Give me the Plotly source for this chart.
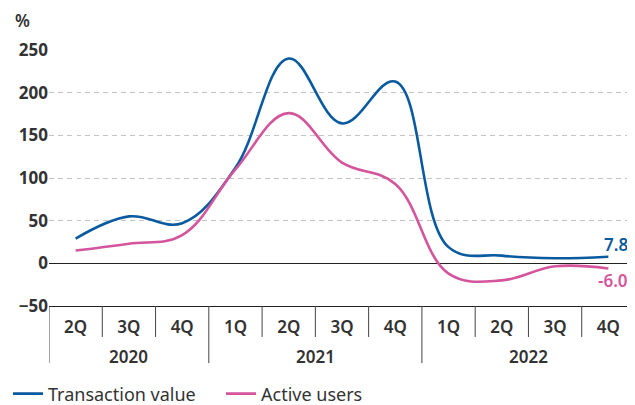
import plotly.graph_objects as go

years = ["2020"] * 3 + ["2021"] * 4 + ["2022"] * 4
quarters = ["2Q", "3Q", "4Q", "1Q", "2Q", "3Q", "4Q", "1Q", "2Q", "3Q", "4Q"]

transaction_value = [29, 55, 47, 112, 240, 164, 213, 19, 9, 6, 7.8]
active_users = [15, 23, 33, 110, 176, 118, 93, -12, -20, -3.5, -6.0]

BLUE = "#0a5aa0"
PINK = "#d4559c"
TEXT = "#333333"
FONT = "Noto Sans"
idx = list(range(len(quarters)))

fig = go.Figure()
fig.add_trace(go.Scatter(
    x=idx, y=transaction_value, name="Transaction value",
    mode="lines", line=dict(color=BLUE, width=2.6, shape="spline", smoothing=1.1),
))
fig.add_trace(go.Scatter(
    x=idx, y=active_users, name="Active users",
    mode="lines", line=dict(color=PINK, width=2.6, shape="spline", smoothing=1.1),
))

# end labels
fig.add_annotation(x=1, xref="paper", xanchor="right", xshift=-5, y=transaction_value[-1], yshift=12,
                   text=f"{transaction_value[-1]:.1f}", showarrow=False,
                   font=dict(color=BLUE, size=17, family=FONT, weight=600))
fig.add_annotation(x=1, xref="paper", xanchor="right", xshift=-5, y=active_users[-1], yshift=-12,
                   text=f"{active_users[-1]:.1f}", showarrow=False,
                   font=dict(color=PINK, size=17, family=FONT, weight=600))
fig.add_annotation(x=0, xref="paper", xanchor="left", y=1, yref="paper", yanchor="bottom",
                   xshift=-36, yshift=16, text="%", showarrow=False,
                   font=dict(color=TEXT, size=17, family=FONT, weight=600))

# year labels + dividers under the axis
groups = []
for i, yr in enumerate(years):
    if not groups or groups[-1][0] != yr:
        groups.append([yr, i, i])
    else:
        groups[-1][2] = i
for yr, a, b in groups:
    fig.add_annotation(x=(a + b) / 2, y=0, yref="paper", yanchor="top", yshift=-37,
                       text=yr, showarrow=False,
                       font=dict(color=TEXT, size=17, family=FONT, weight=600))
for i in range(len(quarters) + 1):
    year_edge = i == 0 or i == len(quarters) or years[i] != years[i - 1]
    fig.add_shape(type="line", x0=i - 0.5, x1=i - 0.5, xref="x", yref="paper",
                  y0=0, y1=-0.223 if year_edge else -0.121,
                  line=dict(color="#444444", width=1))

# the page body has an 8px margin, so the figure is drawn 8px smaller
fig.update_layout(
    width=627, height=397,
    margin=dict(l=41, r=0, t=42, b=99, autoexpand=False),
    plot_bgcolor="#ffffff", paper_bgcolor="#ffffff",
    font=dict(family=FONT, color=TEXT, size=17),
    showlegend=True,
    legend=dict(orientation="h", xref="container", yref="container",
                x=0, xanchor="left", y=0.028, yanchor="middle",
                font=dict(size=18, color=TEXT), itemwidth=30, tracegroupgap=0,
                entrywidth=168),
)
fig.update_yaxes(
    range=[-50, 250], tickvals=[-50, 0, 50, 100, 150, 200, 250], automargin=False,
    showgrid=True, gridcolor="#c4c4c4", griddash="5px,4px", gridwidth=1,
    zeroline=True, zerolinecolor="#222222", zerolinewidth=1.4,
    tickfont=dict(size=17, weight=700, color=TEXT), ticks="", showline=False,
)
fig.update_xaxes(
    range=[-0.5, len(quarters) - 0.5], tickvals=idx, ticktext=quarters, automargin=False,
    showgrid=False, showline=True, linecolor="#222222", linewidth=1.4,
    ticks="", ticklabelstandoff=5,
    tickfont=dict(size=17, weight=600, color=TEXT),
)

fig.write_html("out.html")
